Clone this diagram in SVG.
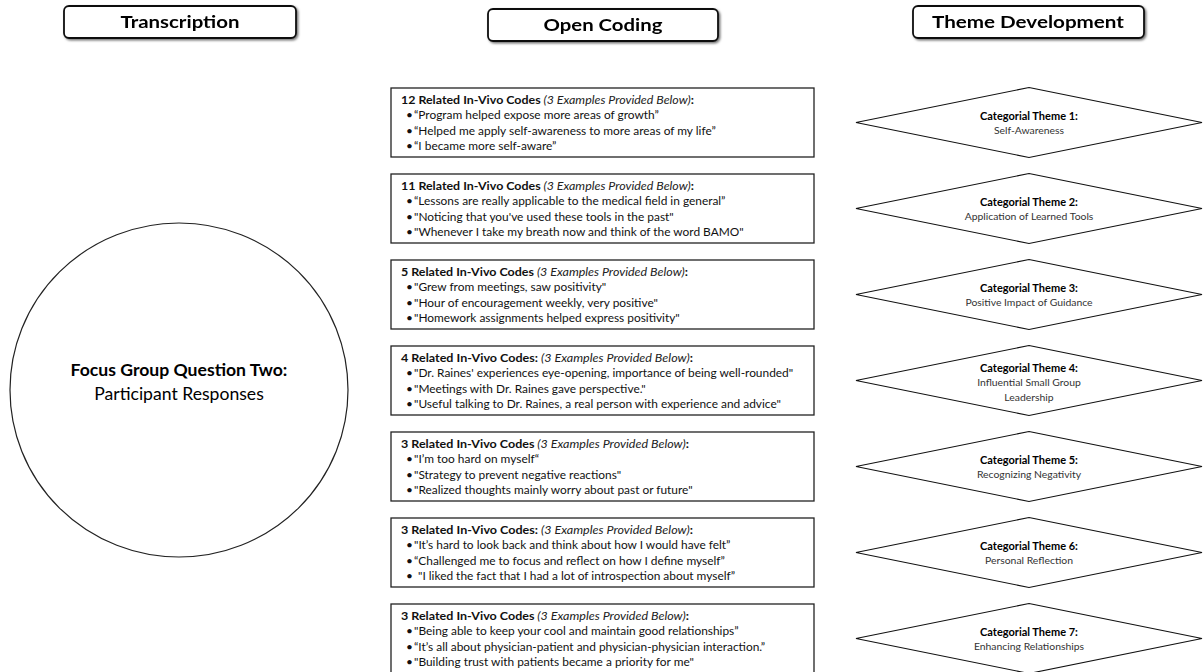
<svg xmlns="http://www.w3.org/2000/svg" width="1204" height="672" viewBox="0 0 1204 672">
<defs>
<filter id="sh" x="-10%" y="-30%" width="120%" height="160%">
<feDropShadow dx="1.5" dy="1.5" stdDeviation="0.8" flood-color="#000" flood-opacity="0.55"/>
</filter>
<style>
.hdr{fill:#fff;stroke:#111;stroke-width:1.8}
.htx{font-family:Lato,"Liberation Sans",sans-serif;font-weight:bold;font-size:17.5px;fill:#000;text-anchor:middle}
.box{fill:#fff;stroke:#222;stroke-width:1.3}
.t{font-family:Lato,"Liberation Sans",sans-serif;font-size:11.9px;fill:#111}
.b{font-weight:bold}
.i{font-style:italic;fill:#222}
.dia{fill:#fff;stroke:#111;stroke-width:1.1}
.dt{font-family:Lato,"Liberation Sans",sans-serif;font-size:11px;font-weight:bold;fill:#000;text-anchor:middle}
.ds{font-family:Lato,"Liberation Sans",sans-serif;font-size:10.4px;fill:#333;text-anchor:middle}
.ct{font-family:Lato,"Liberation Sans",sans-serif;font-size:17.6px;fill:#000;text-anchor:middle}
</style>
</defs>
<rect width="1204" height="672" fill="#fff"/>

<g id="header-transcription" filter="url(#sh)">
<rect class="hdr" x="64" y="6" width="232" height="32" rx="5"/>
<text class="htx" x="180" y="28" textLength="119" lengthAdjust="spacingAndGlyphs">Transcription</text>
</g>
<g id="header-open-coding" filter="url(#sh)">
<rect class="hdr" x="488" y="9" width="230" height="32" rx="5"/>
<text class="htx" x="603" y="31" textLength="119" lengthAdjust="spacingAndGlyphs">Open Coding</text>
</g>
<g id="header-theme" filter="url(#sh)">
<rect class="hdr" x="913" y="6" width="231" height="32" rx="5"/>
<text class="htx" x="1028" y="28" textLength="192" lengthAdjust="spacingAndGlyphs">Theme Development</text>
</g>

<g id="transcription-circle">
<ellipse cx="179" cy="390" rx="169" ry="167" fill="#fff" stroke="#222" stroke-width="1.2"/>
<text class="ct" x="179" y="376" font-weight="bold">Focus Group Question Two:</text>
<text class="ct" x="179" y="399.5" font-size="18.2px">Participant Responses</text>
</g>

<g id="code-box-1">
<rect class="box" x="391" y="88" width="423" height="69"/>
<text class="t" x="401" y="104" textLength="293" lengthAdjust="spacingAndGlyphs"><tspan class="b">12 Related In-Vivo Codes</tspan><tspan class="i"> (3 Examples Provided Below)</tspan><tspan class="b">:</tspan></text>
<text class="t" x="406" y="119.3">•</text><text class="t" x="414" y="119.3">“Program helped expose more areas of growth”</text>
<text class="t" x="406" y="134.6">•</text><text class="t" x="414" y="134.6">“Helped me apply self-awareness to more areas of my life”</text>
<text class="t" x="406" y="150">•</text><text class="t" x="414" y="150">“I became more self-aware”</text>
</g>

<g id="code-box-2">
<rect class="box" x="391" y="174" width="423" height="69"/>
<text class="t" x="401" y="190" textLength="293" lengthAdjust="spacingAndGlyphs"><tspan class="b">11 Related In-Vivo Codes</tspan><tspan class="i"> (3 Examples Provided Below)</tspan><tspan class="b">:</tspan></text>
<text class="t" x="406" y="205.3">•</text><text class="t" x="414" y="205.3">“Lessons are really applicable to the medical field in general”</text>
<text class="t" x="406" y="220.6">•</text><text class="t" x="414" y="220.6">"Noticing that you've used these tools in the past"</text>
<text class="t" x="406" y="236">•</text><text class="t" x="414" y="236">"Whenever I take my breath now and think of the word BAMO"</text>
</g>

<g id="code-box-3">
<rect class="box" x="391" y="260" width="423" height="69"/>
<text class="t" x="401" y="276" textLength="287" lengthAdjust="spacingAndGlyphs"><tspan class="b">5 Related In-Vivo Codes</tspan><tspan class="i"> (3 Examples Provided Below)</tspan><tspan class="b">:</tspan></text>
<text class="t" x="406" y="291.3">•</text><text class="t" x="414" y="291.3">"Grew from meetings, saw positivity"</text>
<text class="t" x="406" y="306.6">•</text><text class="t" x="414" y="306.6">"Hour of encouragement weekly, very positive"</text>
<text class="t" x="406" y="322">•</text><text class="t" x="414" y="322">"Homework assignments helped express positivity"</text>
</g>

<g id="code-box-4">
<rect class="box" x="391" y="346" width="423" height="69"/>
<text class="t" x="401" y="362" textLength="292" lengthAdjust="spacingAndGlyphs"><tspan class="b">4 Related In-Vivo Codes:</tspan><tspan class="i"> (3 Examples Provided Below)</tspan><tspan class="b">:</tspan></text>
<text class="t" x="406" y="377.3">•</text><text class="t" x="414" y="377.3">"Dr. Raines' experiences eye-opening, importance of being well-rounded"</text>
<text class="t" x="406" y="392.6">•</text><text class="t" x="414" y="392.6">"Meetings with Dr. Raines gave perspective."</text>
<text class="t" x="406" y="408">•</text><text class="t" x="414" y="408">"Useful talking to Dr. Raines, a real person with experience and advice"</text>
</g>

<g id="code-box-5">
<rect class="box" x="391" y="432" width="423" height="69"/>
<text class="t" x="401" y="448" textLength="288" lengthAdjust="spacingAndGlyphs"><tspan class="b">3 Related In-Vivo Codes</tspan><tspan class="i"> (3 Examples Provided Below)</tspan><tspan class="b">:</tspan></text>
<text class="t" x="406" y="463.3">•</text><text class="t" x="414" y="463.3">"I’m too hard on myself“</text>
<text class="t" x="406" y="478.6">•</text><text class="t" x="414" y="478.6">"Strategy to prevent negative reactions"</text>
<text class="t" x="406" y="494">•</text><text class="t" x="414" y="494">"Realized thoughts mainly worry about past or future"</text>
</g>

<g id="code-box-6">
<rect class="box" x="391" y="518" width="423" height="69"/>
<text class="t" x="401" y="534" textLength="292" lengthAdjust="spacingAndGlyphs"><tspan class="b">3 Related In-Vivo Codes:</tspan><tspan class="i"> (3 Examples Provided Below)</tspan><tspan class="b">:</tspan></text>
<text class="t" x="406" y="549.3">•</text><text class="t" x="414" y="549.3">"It’s hard to look back and think about how I would have felt”</text>
<text class="t" x="406" y="564.6">•</text><text class="t" x="414" y="564.6">“Challenged me to focus and reflect on how I define myself”</text>
<text class="t" x="406" y="580">•</text><text class="t" x="418" y="580">"I liked the fact that I had a lot of introspection about myself”</text>
</g>

<g id="code-box-7">
<rect class="box" x="391" y="604" width="423" height="69"/>
<text class="t" x="401" y="620" textLength="288" lengthAdjust="spacingAndGlyphs"><tspan class="b">3 Related In-Vivo Codes</tspan><tspan class="i"> (3 Examples Provided Below)</tspan><tspan class="b">:</tspan></text>
<text class="t" x="406" y="635.3">•</text><text class="t" x="414" y="635.3">"Being able to keep your cool and maintain good relationships”</text>
<text class="t" x="406" y="650.6">•</text><text class="t" x="414" y="650.6">“It’s all about physician-patient and physician-physician interaction.”</text>
<text class="t" x="406" y="666">•</text><text class="t" x="414" y="666">"Building trust with patients became a priority for me"</text>
</g>

<g id="theme-1">
<polygon class="dia" points="1029,87.5 1202,122.5 1029,157.5 856,122.5"/>
<text class="dt" x="1029" y="119.5">Categorial Theme 1:</text>
<text class="ds" x="1029" y="134">Self-Awareness</text>
</g>
<g id="theme-2">
<polygon class="dia" points="1029,173.5 1202,208.5 1029,243.5 856,208.5"/>
<text class="dt" x="1029" y="205.5">Categorial Theme 2:</text>
<text class="ds" x="1029" y="220">Application of Learned Tools</text>
</g>
<g id="theme-3">
<polygon class="dia" points="1029,259.5 1202,294.5 1029,329.5 856,294.5"/>
<text class="dt" x="1029" y="291.5">Categorial Theme 3:</text>
<text class="ds" x="1029" y="306">Positive Impact of Guidance</text>
</g>
<g id="theme-4">
<polygon class="dia" points="1029,345.5 1202,380.5 1029,415.5 856,380.5"/>
<text class="dt" x="1029" y="372">Categorial Theme 4:</text>
<text class="ds" x="1029" y="386">Influential Small Group</text>
<text class="ds" x="1029" y="400.5">Leadership</text>
</g>
<g id="theme-5">
<polygon class="dia" points="1029,431.5 1202,466.5 1029,501.5 856,466.5"/>
<text class="dt" x="1029" y="463.5">Categorial Theme 5:</text>
<text class="ds" x="1029" y="478">Recognizing Negativity</text>
</g>
<g id="theme-6">
<polygon class="dia" points="1029,517.5 1202,552.5 1029,587.5 856,552.5"/>
<text class="dt" x="1029" y="549.5">Categorial Theme 6:</text>
<text class="ds" x="1029" y="564">Personal Reflection</text>
</g>
<g id="theme-7">
<polygon class="dia" points="1029,603.5 1202,638.5 1029,673.5 856,638.5"/>
<text class="dt" x="1029" y="635.5">Categorial Theme 7:</text>
<text class="ds" x="1029" y="650">Enhancing Relationships</text>
</g>

<g id="connectors"></g>
</svg>
